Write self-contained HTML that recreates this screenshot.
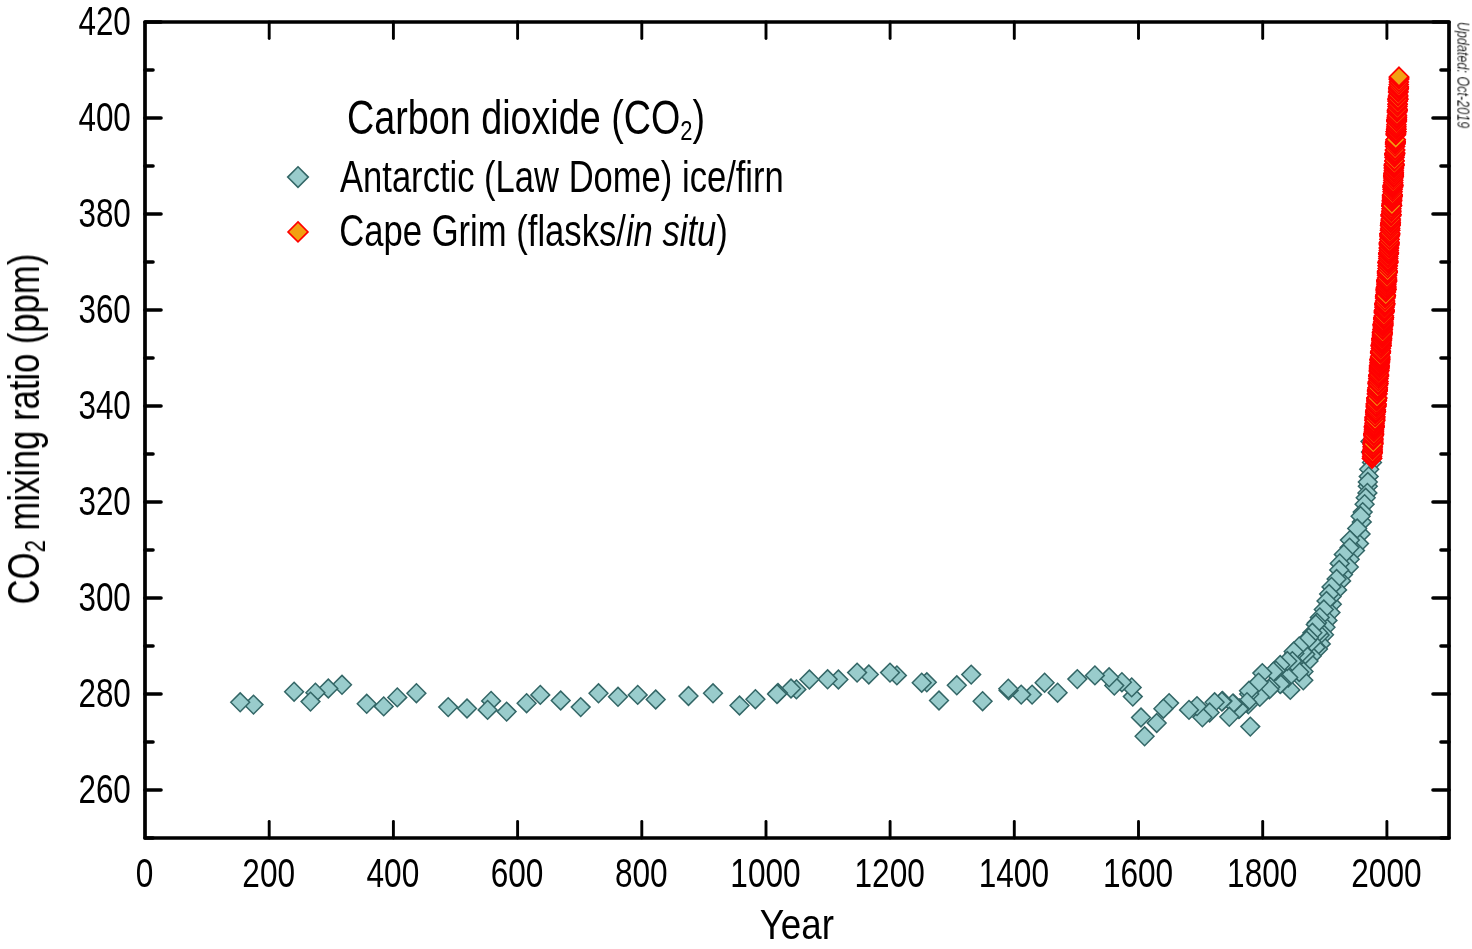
<!DOCTYPE html>
<html><head><meta charset="utf-8"><title>Carbon dioxide (CO2) - Law Dome and Cape Grim</title>
<style>html,body{margin:0;padding:0;background:#fff;width:1472px;height:949px;overflow:hidden}</style>
</head><body>
<svg width="1472" height="949" viewBox="0 0 1472 949" style="display:block">
<rect width="1472" height="949" fill="#fff"/>
<g fill="#99cccc" stroke="#336666" stroke-width="1.5" stroke-linejoin="miter">
<path d="M1372.0 453.1L1381.4 462.5L1372.0 471.9L1362.6 462.5Z"/>
<path d="M1371.0 442.6L1380.4 452.0L1371.0 461.4L1361.6 452.0Z"/>
<path d="M1370.5 432.1L1379.9 441.5L1370.5 450.9L1361.1 441.5Z"/>
<path d="M1369.2 459.9L1378.6 469.3L1369.2 478.7L1359.8 469.3Z"/>
<path d="M1368.7 467.0L1378.1 476.4L1368.7 485.8L1359.3 476.4Z"/>
<path d="M1367.8 476.8L1377.2 486.2L1367.8 495.6L1358.4 486.2Z"/>
<path d="M1367.8 472.6L1377.2 482.0L1367.8 491.4L1358.4 482.0Z"/>
<path d="M1367.4 483.5L1376.8 492.9L1367.4 502.3L1358.0 492.9Z"/>
<path d="M1365.7 488.4L1375.1 497.8L1365.7 507.2L1356.3 497.8Z"/>
<path d="M1364.6 494.8L1374.0 504.2L1364.6 513.6L1355.2 504.2Z"/>
<path d="M1362.7 502.7L1372.1 512.1L1362.7 521.5L1353.3 512.1Z"/>
<path d="M1361.8 512.5L1371.2 521.9L1361.8 531.3L1352.4 521.9Z"/>
<path d="M1360.6 524.6L1370.0 534.0L1360.6 543.4L1351.2 534.0Z"/>
<path d="M1360.6 506.8L1370.0 516.2L1360.6 525.6L1351.2 516.2Z"/>
<path d="M1359.0 534.2L1368.4 543.6L1359.0 553.0L1349.6 543.6Z"/>
<path d="M1357.2 519.1L1366.6 528.5L1357.2 537.9L1347.8 528.5Z"/>
<path d="M1355.0 541.2L1364.4 550.6L1355.0 560.0L1345.6 550.6Z"/>
<path d="M1349.9 530.7L1359.3 540.1L1349.9 549.5L1340.5 540.1Z"/>
<path d="M1349.7 549.8L1359.1 559.2L1349.7 568.6L1340.3 559.2Z"/>
<path d="M1349.6 538.2L1359.0 547.6L1349.6 557.0L1340.2 547.6Z"/>
<path d="M1348.8 557.6L1358.2 567.0L1348.8 576.4L1339.4 567.0Z"/>
<path d="M1343.8 545.0L1353.2 554.4L1343.8 563.8L1334.4 554.4Z"/>
<path d="M1343.0 565.2L1352.4 574.6L1343.0 584.0L1333.6 574.6Z"/>
<path d="M1341.1 571.5L1350.5 580.9L1341.1 590.3L1331.7 580.9Z"/>
<path d="M1339.7 554.0L1349.1 563.4L1339.7 572.8L1330.3 563.4Z"/>
<path d="M1339.2 560.6L1348.6 570.0L1339.2 579.4L1329.8 570.0Z"/>
<path d="M1337.1 580.5L1346.5 589.9L1337.1 599.3L1327.7 589.9Z"/>
<path d="M1336.6 569.6L1346.0 579.0L1336.6 588.4L1327.2 579.0Z"/>
<path d="M1331.8 594.9L1341.2 604.3L1331.8 613.7L1322.4 604.3Z"/>
<path d="M1331.6 587.1L1341.0 596.5L1331.6 605.9L1322.2 596.5Z"/>
<path d="M1331.5 577.5L1340.9 586.9L1331.5 596.3L1322.1 586.9Z"/>
<path d="M1330.5 603.2L1339.9 612.6L1330.5 622.0L1321.1 612.6Z"/>
<path d="M1329.1 584.6L1338.5 594.0L1329.1 603.4L1319.7 594.0Z"/>
<path d="M1327.5 611.0L1336.9 620.4L1327.5 629.8L1318.1 620.4Z"/>
<path d="M1326.5 591.6L1335.9 601.0L1326.5 610.4L1317.1 601.0Z"/>
<path d="M1325.5 617.9L1334.9 627.3L1325.5 636.7L1316.1 627.3Z"/>
<path d="M1324.0 625.4L1333.4 634.8L1324.0 644.2L1314.6 634.8Z"/>
<path d="M1323.8 600.1L1333.2 609.5L1323.8 618.9L1314.4 609.5Z"/>
<path d="M1320.8 634.5L1330.2 643.9L1320.8 653.3L1311.4 643.9Z"/>
<path d="M1319.8 608.0L1329.2 617.4L1319.8 626.8L1310.4 617.4Z"/>
<path d="M1319.7 625.7L1329.1 635.1L1319.7 644.5L1310.3 635.1Z"/>
<path d="M1318.0 639.6L1327.4 649.0L1318.0 658.4L1308.6 649.0Z"/>
<path d="M1318.0 623.3L1327.4 632.7L1318.0 642.1L1308.6 632.7Z"/>
<path d="M1317.0 613.3L1326.4 622.7L1317.0 632.1L1307.6 622.7Z"/>
<path d="M1315.8 615.0L1325.2 624.4L1315.8 633.8L1306.4 624.4Z"/>
<path d="M1315.6 638.0L1325.0 647.4L1315.6 656.8L1306.2 647.4Z"/>
<path d="M1312.4 623.4L1321.8 632.8L1312.4 642.2L1303.0 632.8Z"/>
<path d="M1311.7 646.6L1321.1 656.0L1311.7 665.4L1302.3 656.0Z"/>
<path d="M1311.6 632.5L1321.0 641.9L1311.6 651.3L1302.2 641.9Z"/>
<path d="M1308.8 628.4L1318.2 637.8L1308.8 647.2L1299.4 637.8Z"/>
<path d="M1308.5 651.6L1317.9 661.0L1308.5 670.4L1299.1 661.0Z"/>
<path d="M1306.7 631.2L1316.1 640.6L1306.7 650.0L1297.3 640.6Z"/>
<path d="M1305.3 644.8L1314.7 654.2L1305.3 663.6L1295.9 654.2Z"/>
<path d="M1303.5 662.1L1312.9 671.5L1303.5 680.9L1294.1 671.5Z"/>
<path d="M1303.3 670.9L1312.7 680.3L1303.3 689.7L1293.9 680.3Z"/>
<path d="M1302.6 642.5L1312.0 651.9L1302.6 661.3L1293.2 651.9Z"/>
<path d="M1299.2 662.6L1308.6 672.0L1299.2 681.4L1289.8 672.0Z"/>
<path d="M1299.2 637.0L1308.6 646.4L1299.2 655.8L1289.8 646.4Z"/>
<path d="M1294.4 644.2L1303.8 653.6L1294.4 663.0L1285.0 653.6Z"/>
<path d="M1293.7 642.1L1303.1 651.5L1293.7 660.9L1284.3 651.5Z"/>
<path d="M1292.3 651.7L1301.7 661.1L1292.3 670.5L1282.9 661.1Z"/>
<path d="M1290.3 680.5L1299.7 689.9L1290.3 699.3L1280.9 689.9Z"/>
<path d="M1288.2 668.1L1297.6 677.5L1288.2 686.9L1278.8 677.5Z"/>
<path d="M1287.3 651.6L1296.7 661.0L1287.3 670.4L1277.9 661.0Z"/>
<path d="M1281.4 673.6L1290.8 683.0L1281.4 692.4L1272.0 683.0Z"/>
<path d="M1280.2 655.6L1289.6 665.0L1280.2 674.4L1270.8 665.0Z"/>
<path d="M1280.2 674.6L1289.6 684.0L1280.2 693.4L1270.8 684.0Z"/>
<path d="M1275.9 661.3L1285.3 670.7L1275.9 680.1L1266.5 670.7Z"/>
<path d="M1273.4 662.3L1282.8 671.7L1273.4 681.1L1264.0 671.7Z"/>
<path d="M1270.4 677.7L1279.8 687.1L1270.4 696.5L1261.0 687.1Z"/>
<path d="M1269.3 680.0L1278.7 689.4L1269.3 698.8L1259.9 689.4Z"/>
<path d="M1262.3 663.7L1271.7 673.1L1262.3 682.5L1252.9 673.1Z"/>
<path d="M1259.8 687.5L1269.2 696.9L1259.8 706.3L1250.4 696.9Z"/>
<path d="M1258.5 673.2L1267.9 682.6L1258.5 692.0L1249.1 682.6Z"/>
<path d="M1250.3 717.2L1259.7 726.6L1250.3 736.0L1240.9 726.6Z"/>
<path d="M1249.2 684.6L1258.6 694.0L1249.2 703.4L1239.8 694.0Z"/>
<path d="M1249.0 681.4L1258.4 690.8L1249.0 700.2L1239.6 690.8Z"/>
<path d="M1248.3 694.9L1257.7 704.3L1248.3 713.7L1238.9 704.3Z"/>
<path d="M1247.0 692.8L1256.4 702.2L1247.0 711.6L1237.6 702.2Z"/>
<path d="M1239.5 699.0L1248.9 708.4L1239.5 717.8L1230.1 708.4Z"/>
<path d="M1238.9 699.6L1248.3 709.0L1238.9 718.4L1229.5 709.0Z"/>
<path d="M1233.4 694.2L1242.8 703.6L1233.4 713.0L1224.0 703.6Z"/>
<path d="M1232.7 694.3L1242.1 703.7L1232.7 713.1L1223.3 703.7Z"/>
<path d="M1229.3 707.4L1238.7 716.8L1229.3 726.2L1219.9 716.8Z"/>
<path d="M1222.5 691.6L1231.9 701.0L1222.5 710.4L1213.1 701.0Z"/>
<path d="M1221.8 692.1L1231.2 701.5L1221.8 710.9L1212.4 701.5Z"/>
<path d="M1214.6 692.9L1224.0 702.3L1214.6 711.7L1205.2 702.3Z"/>
<path d="M1209.6 703.1L1219.0 712.5L1209.6 721.9L1200.2 712.5Z"/>
<path d="M1202.4 707.9L1211.8 717.3L1202.4 726.7L1193.0 717.3Z"/>
<path d="M1197.0 696.7L1206.4 706.1L1197.0 715.5L1187.6 706.1Z"/>
<path d="M1189.0 700.5L1198.4 709.9L1189.0 719.3L1179.6 709.9Z"/>
<path d="M1169.1 693.7L1178.5 703.1L1169.1 712.5L1159.7 703.1Z"/>
<path d="M1163.4 699.3L1172.8 708.7L1163.4 718.1L1154.0 708.7Z"/>
<path d="M1156.7 713.6L1166.1 723.0L1156.7 732.4L1147.3 723.0Z"/>
<path d="M1144.6 726.9L1154.0 736.3L1144.6 745.7L1135.2 736.3Z"/>
<path d="M1141.0 708.1L1150.4 717.5L1141.0 726.9L1131.6 717.5Z"/>
<path d="M1132.8 687.2L1142.2 696.6L1132.8 706.0L1123.4 696.6Z"/>
<path d="M1131.7 678.0L1141.1 687.4L1131.7 696.8L1122.3 687.4Z"/>
<path d="M1121.9 672.8L1131.3 682.2L1121.9 691.6L1112.5 682.2Z"/>
<path d="M1114.3 676.2L1123.7 685.6L1114.3 695.0L1104.9 685.6Z"/>
<path d="M1109.1 667.9L1118.5 677.3L1109.1 686.7L1099.7 677.3Z"/>
<path d="M1094.9 666.0L1104.3 675.4L1094.9 684.8L1085.5 675.4Z"/>
<path d="M1077.3 669.7L1086.7 679.1L1077.3 688.5L1067.9 679.1Z"/>
<path d="M1057.6 683.3L1067.0 692.7L1057.6 702.1L1048.2 692.7Z"/>
<path d="M1044.6 673.3L1054.0 682.7L1044.6 692.1L1035.2 682.7Z"/>
<path d="M1032.1 685.2L1041.5 694.6L1032.1 704.0L1022.7 694.6Z"/>
<path d="M1021.2 685.2L1030.6 694.6L1021.2 704.0L1011.8 694.6Z"/>
<path d="M1008.6 681.0L1018.0 690.4L1008.6 699.8L999.2 690.4Z"/>
<path d="M1008.3 679.3L1017.7 688.7L1008.3 698.1L998.9 688.7Z"/>
<path d="M982.6 691.8L992.0 701.2L982.6 710.6L973.2 701.2Z"/>
<path d="M971.2 665.2L980.6 674.6L971.2 684.0L961.8 674.6Z"/>
<path d="M956.8 675.9L966.2 685.3L956.8 694.7L947.4 685.3Z"/>
<path d="M939.0 691.1L948.4 700.5L939.0 709.9L929.6 700.5Z"/>
<path d="M926.8 672.9L936.2 682.3L926.8 691.7L917.4 682.3Z"/>
<path d="M921.7 673.3L931.1 682.7L921.7 692.1L912.3 682.7Z"/>
<path d="M896.9 666.0L906.3 675.4L896.9 684.8L887.5 675.4Z"/>
<path d="M890.0 663.2L899.4 672.6L890.0 682.0L880.6 672.6Z"/>
<path d="M868.8 665.1L878.2 674.5L868.8 683.9L859.4 674.5Z"/>
<path d="M857.1 663.2L866.5 672.6L857.1 682.0L847.7 672.6Z"/>
<path d="M838.4 670.1L847.8 679.5L838.4 688.9L829.0 679.5Z"/>
<path d="M827.6 669.9L837.0 679.3L827.6 688.7L818.2 679.3Z"/>
<path d="M809.4 670.1L818.8 679.5L809.4 688.9L800.0 679.5Z"/>
<path d="M796.4 680.0L805.8 689.4L796.4 698.8L787.0 689.4Z"/>
<path d="M791.0 679.1L800.4 688.5L791.0 697.9L781.6 688.5Z"/>
<path d="M778.0 683.6L787.4 693.0L778.0 702.4L768.6 693.0Z"/>
<path d="M777.0 684.6L786.4 694.0L777.0 703.4L767.6 694.0Z"/>
<path d="M755.4 689.8L764.8 699.2L755.4 708.6L746.0 699.2Z"/>
<path d="M739.5 696.1L748.9 705.5L739.5 714.9L730.1 705.5Z"/>
<path d="M713.0 683.9L722.4 693.3L713.0 702.7L703.6 693.3Z"/>
<path d="M688.5 686.6L697.9 696.0L688.5 705.4L679.1 696.0Z"/>
<path d="M655.7 690.1L665.1 699.5L655.7 708.9L646.3 699.5Z"/>
<path d="M637.7 685.5L647.1 694.9L637.7 704.3L628.3 694.9Z"/>
<path d="M618.0 687.4L627.4 696.8L618.0 706.2L608.6 696.8Z"/>
<path d="M598.5 683.9L607.9 693.3L598.5 702.7L589.1 693.3Z"/>
<path d="M580.7 697.7L590.1 707.1L580.7 716.5L571.3 707.1Z"/>
<path d="M560.7 691.1L570.1 700.5L560.7 709.9L551.3 700.5Z"/>
<path d="M540.3 685.5L549.7 694.9L540.3 704.3L530.9 694.9Z"/>
<path d="M526.6 693.8L536.0 703.2L526.6 712.6L517.2 703.2Z"/>
<path d="M506.6 702.2L516.0 711.6L506.6 721.0L497.2 711.6Z"/>
<path d="M491.1 691.5L500.5 700.9L491.1 710.3L481.7 700.9Z"/>
<path d="M487.6 700.5L497.0 709.9L487.6 719.3L478.2 709.9Z"/>
<path d="M467.0 699.1L476.4 708.5L467.0 717.9L457.6 708.5Z"/>
<path d="M448.2 697.7L457.6 707.1L448.2 716.5L438.8 707.1Z"/>
<path d="M416.4 683.8L425.8 693.2L416.4 702.6L407.0 693.2Z"/>
<path d="M397.3 688.0L406.7 697.4L397.3 706.8L387.9 697.4Z"/>
<path d="M383.7 697.0L393.1 706.4L383.7 715.8L374.3 706.4Z"/>
<path d="M366.7 694.4L376.1 703.8L366.7 713.2L357.3 703.8Z"/>
<path d="M342.0 675.4L351.4 684.8L342.0 694.2L332.6 684.8Z"/>
<path d="M328.3 679.1L337.7 688.5L328.3 697.9L318.9 688.5Z"/>
<path d="M315.4 683.3L324.8 692.7L315.4 702.1L306.0 692.7Z"/>
<path d="M310.5 692.2L319.9 701.6L310.5 711.0L301.1 701.6Z"/>
<path d="M294.1 682.3L303.5 691.7L294.1 701.1L284.7 691.7Z"/>
<path d="M253.5 695.2L262.9 704.6L253.5 714.0L244.1 704.6Z"/>
<path d="M240.2 692.9L249.6 702.3L240.2 711.7L230.8 702.3Z"/>
</g>
<g fill="#f2a012" stroke="#ff0000" stroke-width="1.7">
<path d="M1372.0 449.2L1381.4 458.6L1372.0 468.0L1362.6 458.6Z"/>
<path d="M1372.1 448.8L1381.5 458.2L1372.1 467.6L1362.7 458.2Z"/>
<path d="M1372.1 446.9L1381.5 456.3L1372.1 465.7L1362.7 456.3Z"/>
<path d="M1372.2 444.7L1381.6 454.1L1372.2 463.5L1362.8 454.1Z"/>
<path d="M1372.2 443.5L1381.6 452.9L1372.2 462.3L1362.8 452.9Z"/>
<path d="M1372.3 442.0L1381.7 451.4L1372.3 460.8L1362.9 451.4Z"/>
<path d="M1372.3 443.0L1381.7 452.4L1372.3 461.8L1362.9 452.4Z"/>
<path d="M1372.4 442.9L1381.8 452.3L1372.4 461.7L1363.0 452.3Z"/>
<path d="M1372.4 441.5L1381.8 450.9L1372.4 460.3L1363.0 450.9Z"/>
<path d="M1372.5 443.0L1381.9 452.4L1372.5 461.8L1363.1 452.4Z"/>
<path d="M1372.5 443.2L1381.9 452.6L1372.5 462.0L1363.1 452.6Z"/>
<path d="M1372.6 443.4L1382.0 452.8L1372.6 462.2L1363.2 452.8Z"/>
<path d="M1372.6 440.5L1382.0 449.9L1372.6 459.3L1363.2 449.9Z"/>
<path d="M1372.7 439.6L1382.1 449.0L1372.7 458.4L1363.3 449.0Z"/>
<path d="M1372.7 437.4L1382.1 446.8L1372.7 456.2L1363.3 446.8Z"/>
<path d="M1372.8 437.6L1382.2 447.0L1372.8 456.4L1363.4 447.0Z"/>
<path d="M1372.8 435.3L1382.2 444.7L1372.8 454.1L1363.4 444.7Z"/>
<path d="M1372.9 435.0L1382.3 444.4L1372.9 453.8L1363.5 444.4Z"/>
<path d="M1372.9 432.9L1382.3 442.3L1372.9 451.7L1363.5 442.3Z"/>
<path d="M1373.0 432.1L1382.4 441.5L1373.0 450.9L1363.6 441.5Z"/>
<path d="M1373.0 434.2L1382.4 443.6L1373.0 453.0L1363.6 443.6Z"/>
<path d="M1373.1 432.7L1382.5 442.1L1373.1 451.5L1363.7 442.1Z"/>
<path d="M1373.1 433.3L1382.5 442.7L1373.1 452.1L1363.7 442.7Z"/>
<path d="M1373.2 434.0L1382.6 443.4L1373.2 452.8L1363.8 443.4Z"/>
<path d="M1373.2 434.6L1382.6 444.0L1373.2 453.4L1363.8 444.0Z"/>
<path d="M1373.3 430.7L1382.7 440.1L1373.3 449.5L1363.9 440.1Z"/>
<path d="M1373.3 430.3L1382.7 439.7L1373.3 449.1L1363.9 439.7Z"/>
<path d="M1373.4 428.9L1382.8 438.3L1373.4 447.7L1364.0 438.3Z"/>
<path d="M1373.5 426.6L1382.9 436.0L1373.5 445.4L1364.1 436.0Z"/>
<path d="M1373.5 425.4L1382.9 434.8L1373.5 444.2L1364.1 434.8Z"/>
<path d="M1373.6 423.9L1383.0 433.3L1373.6 442.7L1364.2 433.3Z"/>
<path d="M1373.6 425.7L1383.0 435.1L1373.6 444.5L1364.2 435.1Z"/>
<path d="M1373.7 424.3L1383.1 433.7L1373.7 443.1L1364.3 433.7Z"/>
<path d="M1373.7 424.3L1383.1 433.7L1373.7 443.1L1364.3 433.7Z"/>
<path d="M1373.8 424.5L1383.2 433.9L1373.8 443.3L1364.4 433.9Z"/>
<path d="M1373.8 425.6L1383.2 435.0L1373.8 444.4L1364.4 435.0Z"/>
<path d="M1373.9 425.2L1383.3 434.6L1373.9 444.0L1364.5 434.6Z"/>
<path d="M1373.9 422.6L1383.3 432.0L1373.9 441.4L1364.5 432.0Z"/>
<path d="M1374.0 421.7L1383.4 431.1L1374.0 440.5L1364.6 431.1Z"/>
<path d="M1374.0 419.9L1383.4 429.3L1374.0 438.7L1364.6 429.3Z"/>
<path d="M1374.1 417.4L1383.5 426.8L1374.1 436.2L1364.7 426.8Z"/>
<path d="M1374.1 417.5L1383.5 426.9L1374.1 436.3L1364.7 426.9Z"/>
<path d="M1374.2 418.4L1383.6 427.8L1374.2 437.2L1364.8 427.8Z"/>
<path d="M1374.2 416.8L1383.6 426.2L1374.2 435.6L1364.8 426.2Z"/>
<path d="M1374.3 418.2L1383.7 427.6L1374.3 437.0L1364.9 427.6Z"/>
<path d="M1374.3 416.5L1383.7 425.9L1374.3 435.3L1364.9 425.9Z"/>
<path d="M1374.4 417.0L1383.8 426.4L1374.4 435.8L1365.0 426.4Z"/>
<path d="M1374.4 417.5L1383.8 426.9L1374.4 436.3L1365.0 426.9Z"/>
<path d="M1374.5 416.3L1383.9 425.7L1374.5 435.1L1365.1 425.7Z"/>
<path d="M1374.5 414.5L1383.9 423.9L1374.5 433.3L1365.1 423.9Z"/>
<path d="M1374.6 413.6L1384.0 423.0L1374.6 432.4L1365.2 423.0Z"/>
<path d="M1374.6 411.0L1384.0 420.4L1374.6 429.8L1365.2 420.4Z"/>
<path d="M1374.7 410.6L1384.1 420.0L1374.7 429.4L1365.3 420.0Z"/>
<path d="M1374.7 408.7L1384.1 418.1L1374.7 427.5L1365.3 418.1Z"/>
<path d="M1374.8 407.8L1384.2 417.2L1374.8 426.6L1365.4 417.2Z"/>
<path d="M1374.8 407.7L1384.2 417.1L1374.8 426.5L1365.4 417.1Z"/>
<path d="M1374.9 409.8L1384.3 419.2L1374.9 428.6L1365.5 419.2Z"/>
<path d="M1375.0 409.1L1384.4 418.5L1375.0 427.9L1365.6 418.5Z"/>
<path d="M1375.0 411.5L1384.4 420.9L1375.0 430.3L1365.6 420.9Z"/>
<path d="M1375.1 410.7L1384.5 420.1L1375.1 429.5L1365.7 420.1Z"/>
<path d="M1375.1 410.8L1384.5 420.2L1375.1 429.6L1365.7 420.2Z"/>
<path d="M1375.2 407.3L1384.6 416.7L1375.2 426.1L1365.8 416.7Z"/>
<path d="M1375.2 407.5L1384.6 416.9L1375.2 426.3L1365.8 416.9Z"/>
<path d="M1375.3 405.0L1384.7 414.4L1375.3 423.8L1365.9 414.4Z"/>
<path d="M1375.3 403.7L1384.7 413.1L1375.3 422.5L1365.9 413.1Z"/>
<path d="M1375.4 402.5L1384.8 411.9L1375.4 421.3L1366.0 411.9Z"/>
<path d="M1375.4 402.4L1384.8 411.8L1375.4 421.2L1366.0 411.8Z"/>
<path d="M1375.5 401.7L1384.9 411.1L1375.5 420.5L1366.1 411.1Z"/>
<path d="M1375.5 400.9L1384.9 410.3L1375.5 419.7L1366.1 410.3Z"/>
<path d="M1375.6 402.7L1385.0 412.1L1375.6 421.5L1366.2 412.1Z"/>
<path d="M1375.6 402.6L1385.0 412.0L1375.6 421.4L1366.2 412.0Z"/>
<path d="M1375.7 402.1L1385.1 411.5L1375.7 420.9L1366.3 411.5Z"/>
<path d="M1375.7 402.4L1385.1 411.8L1375.7 421.2L1366.3 411.8Z"/>
<path d="M1375.8 402.1L1385.2 411.5L1375.8 420.9L1366.4 411.5Z"/>
<path d="M1375.8 400.0L1385.2 409.4L1375.8 418.8L1366.4 409.4Z"/>
<path d="M1375.9 397.1L1385.3 406.5L1375.9 415.9L1366.5 406.5Z"/>
<path d="M1375.9 397.8L1385.3 407.2L1375.9 416.6L1366.5 407.2Z"/>
<path d="M1376.0 395.9L1385.4 405.3L1376.0 414.7L1366.6 405.3Z"/>
<path d="M1376.0 394.1L1385.4 403.5L1376.0 412.9L1366.6 403.5Z"/>
<path d="M1376.1 394.3L1385.5 403.7L1376.1 413.1L1366.7 403.7Z"/>
<path d="M1376.1 395.2L1385.5 404.6L1376.1 414.0L1366.7 404.6Z"/>
<path d="M1376.2 395.1L1385.6 404.5L1376.2 413.9L1366.8 404.5Z"/>
<path d="M1376.2 395.9L1385.6 405.3L1376.2 414.7L1366.8 405.3Z"/>
<path d="M1376.3 396.8L1385.7 406.2L1376.3 415.6L1366.9 406.2Z"/>
<path d="M1376.3 396.5L1385.7 405.9L1376.3 415.3L1366.9 405.9Z"/>
<path d="M1376.4 394.6L1385.8 404.0L1376.4 413.4L1367.0 404.0Z"/>
<path d="M1376.5 391.9L1385.9 401.3L1376.5 410.7L1367.1 401.3Z"/>
<path d="M1376.5 391.4L1385.9 400.8L1376.5 410.2L1367.1 400.8Z"/>
<path d="M1376.6 390.2L1386.0 399.6L1376.6 409.0L1367.2 399.6Z"/>
<path d="M1376.6 389.0L1386.0 398.4L1376.6 407.8L1367.2 398.4Z"/>
<path d="M1376.7 389.1L1386.1 398.5L1376.7 407.9L1367.3 398.5Z"/>
<path d="M1376.7 388.0L1386.1 397.4L1376.7 406.8L1367.3 397.4Z"/>
<path d="M1376.8 389.2L1386.2 398.6L1376.8 408.0L1367.4 398.6Z"/>
<path d="M1376.8 388.4L1386.2 397.8L1376.8 407.2L1367.4 397.8Z"/>
<path d="M1376.9 390.8L1386.3 400.2L1376.9 409.6L1367.5 400.2Z"/>
<path d="M1376.9 388.6L1386.3 398.0L1376.9 407.4L1367.5 398.0Z"/>
<path d="M1377.0 388.7L1386.4 398.1L1377.0 407.5L1367.6 398.1Z"/>
<path d="M1377.0 388.6L1386.4 398.0L1377.0 407.4L1367.6 398.0Z"/>
<path d="M1377.1 385.0L1386.5 394.4L1377.1 403.8L1367.7 394.4Z"/>
<path d="M1377.1 384.2L1386.5 393.6L1377.1 403.0L1367.7 393.6Z"/>
<path d="M1377.2 384.2L1386.6 393.6L1377.2 403.0L1367.8 393.6Z"/>
<path d="M1377.2 382.1L1386.6 391.5L1377.2 400.9L1367.8 391.5Z"/>
<path d="M1377.3 380.7L1386.7 390.1L1377.3 399.5L1367.9 390.1Z"/>
<path d="M1377.3 381.2L1386.7 390.6L1377.3 400.0L1367.9 390.6Z"/>
<path d="M1377.4 380.6L1386.8 390.0L1377.4 399.4L1368.0 390.0Z"/>
<path d="M1377.4 381.1L1386.8 390.5L1377.4 399.9L1368.0 390.5Z"/>
<path d="M1377.5 381.5L1386.9 390.9L1377.5 400.3L1368.1 390.9Z"/>
<path d="M1377.5 381.6L1386.9 391.0L1377.5 400.4L1368.1 391.0Z"/>
<path d="M1377.6 380.2L1387.0 389.6L1377.6 399.0L1368.2 389.6Z"/>
<path d="M1377.6 379.5L1387.0 388.9L1377.6 398.3L1368.2 388.9Z"/>
<path d="M1377.7 378.1L1387.1 387.5L1377.7 396.9L1368.3 387.5Z"/>
<path d="M1377.7 378.4L1387.1 387.8L1377.7 397.2L1368.3 387.8Z"/>
<path d="M1377.8 374.6L1387.2 384.0L1377.8 393.4L1368.4 384.0Z"/>
<path d="M1377.8 373.1L1387.2 382.5L1377.8 391.9L1368.4 382.5Z"/>
<path d="M1377.9 373.8L1387.3 383.2L1377.9 392.6L1368.5 383.2Z"/>
<path d="M1378.0 373.9L1387.4 383.3L1378.0 392.7L1368.6 383.3Z"/>
<path d="M1378.0 372.3L1387.4 381.7L1378.0 391.1L1368.6 381.7Z"/>
<path d="M1378.1 375.5L1387.5 384.9L1378.1 394.3L1368.7 384.9Z"/>
<path d="M1378.1 374.1L1387.5 383.5L1378.1 392.9L1368.7 383.5Z"/>
<path d="M1378.2 372.4L1387.6 381.8L1378.2 391.2L1368.8 381.8Z"/>
<path d="M1378.2 374.3L1387.6 383.7L1378.2 393.1L1368.8 383.7Z"/>
<path d="M1378.3 371.8L1387.7 381.2L1378.3 390.6L1368.9 381.2Z"/>
<path d="M1378.3 369.3L1387.7 378.7L1378.3 388.1L1368.9 378.7Z"/>
<path d="M1378.4 369.2L1387.8 378.6L1378.4 388.0L1369.0 378.6Z"/>
<path d="M1378.4 367.2L1387.8 376.6L1378.4 386.0L1369.0 376.6Z"/>
<path d="M1378.5 365.8L1387.9 375.2L1378.5 384.6L1369.1 375.2Z"/>
<path d="M1378.5 366.6L1387.9 376.0L1378.5 385.4L1369.1 376.0Z"/>
<path d="M1378.6 365.9L1388.0 375.3L1378.6 384.7L1369.2 375.3Z"/>
<path d="M1378.6 365.9L1388.0 375.3L1378.6 384.7L1369.2 375.3Z"/>
<path d="M1378.7 365.9L1388.1 375.3L1378.7 384.7L1369.3 375.3Z"/>
<path d="M1378.7 366.8L1388.1 376.2L1378.7 385.6L1369.3 376.2Z"/>
<path d="M1378.8 366.7L1388.2 376.1L1378.8 385.5L1369.4 376.1Z"/>
<path d="M1378.8 366.7L1388.2 376.1L1378.8 385.5L1369.4 376.1Z"/>
<path d="M1378.9 364.9L1388.3 374.3L1378.9 383.7L1369.5 374.3Z"/>
<path d="M1378.9 362.4L1388.3 371.8L1378.9 381.2L1369.5 371.8Z"/>
<path d="M1379.0 361.3L1388.4 370.7L1379.0 380.1L1369.6 370.7Z"/>
<path d="M1379.0 360.6L1388.4 370.0L1379.0 379.4L1369.6 370.0Z"/>
<path d="M1379.1 359.4L1388.5 368.8L1379.1 378.2L1369.7 368.8Z"/>
<path d="M1379.1 356.2L1388.5 365.6L1379.1 375.0L1369.7 365.6Z"/>
<path d="M1379.2 357.3L1388.6 366.7L1379.2 376.1L1369.8 366.7Z"/>
<path d="M1379.2 357.9L1388.6 367.3L1379.2 376.7L1369.8 367.3Z"/>
<path d="M1379.3 360.8L1388.7 370.2L1379.3 379.6L1369.9 370.2Z"/>
<path d="M1379.3 358.6L1388.7 368.0L1379.3 377.4L1369.9 368.0Z"/>
<path d="M1379.4 358.5L1388.8 367.9L1379.4 377.3L1370.0 367.9Z"/>
<path d="M1379.5 356.9L1388.9 366.3L1379.5 375.7L1370.1 366.3Z"/>
<path d="M1379.5 356.7L1388.9 366.1L1379.5 375.5L1370.1 366.1Z"/>
<path d="M1379.6 355.5L1389.0 364.9L1379.6 374.3L1370.2 364.9Z"/>
<path d="M1379.6 353.3L1389.0 362.7L1379.6 372.1L1370.2 362.7Z"/>
<path d="M1379.7 353.7L1389.1 363.1L1379.7 372.5L1370.3 363.1Z"/>
<path d="M1379.7 350.3L1389.1 359.7L1379.7 369.1L1370.3 359.7Z"/>
<path d="M1379.8 350.3L1389.2 359.7L1379.8 369.1L1370.4 359.7Z"/>
<path d="M1379.8 351.0L1389.2 360.4L1379.8 369.8L1370.4 360.4Z"/>
<path d="M1379.9 349.7L1389.3 359.1L1379.9 368.5L1370.5 359.1Z"/>
<path d="M1379.9 349.8L1389.3 359.2L1379.9 368.6L1370.5 359.2Z"/>
<path d="M1380.0 352.5L1389.4 361.9L1380.0 371.3L1370.6 361.9Z"/>
<path d="M1380.0 351.7L1389.4 361.1L1380.0 370.5L1370.6 361.1Z"/>
<path d="M1380.1 350.3L1389.5 359.7L1380.1 369.1L1370.7 359.7Z"/>
<path d="M1380.1 349.2L1389.5 358.6L1380.1 368.0L1370.7 358.6Z"/>
<path d="M1380.2 348.0L1389.6 357.4L1380.2 366.8L1370.8 357.4Z"/>
<path d="M1380.2 346.8L1389.6 356.2L1380.2 365.6L1370.8 356.2Z"/>
<path d="M1380.3 342.9L1389.7 352.3L1380.3 361.7L1370.9 352.3Z"/>
<path d="M1380.3 342.6L1389.7 352.0L1380.3 361.4L1370.9 352.0Z"/>
<path d="M1380.4 343.8L1389.8 353.2L1380.4 362.6L1371.0 353.2Z"/>
<path d="M1380.4 343.8L1389.8 353.2L1380.4 362.6L1371.0 353.2Z"/>
<path d="M1380.5 341.8L1389.9 351.2L1380.5 360.6L1371.1 351.2Z"/>
<path d="M1380.5 342.7L1389.9 352.1L1380.5 361.5L1371.1 352.1Z"/>
<path d="M1380.6 342.3L1390.0 351.7L1380.6 361.1L1371.2 351.7Z"/>
<path d="M1380.6 342.9L1390.0 352.3L1380.6 361.7L1371.2 352.3Z"/>
<path d="M1380.7 343.5L1390.1 352.9L1380.7 362.3L1371.3 352.9Z"/>
<path d="M1380.7 341.5L1390.1 350.9L1380.7 360.3L1371.3 350.9Z"/>
<path d="M1380.8 341.9L1390.2 351.3L1380.8 360.7L1371.4 351.3Z"/>
<path d="M1380.9 339.2L1390.3 348.6L1380.9 358.0L1371.5 348.6Z"/>
<path d="M1380.9 337.2L1390.3 346.6L1380.9 356.0L1371.5 346.6Z"/>
<path d="M1381.0 335.7L1390.4 345.1L1381.0 354.5L1371.6 345.1Z"/>
<path d="M1381.0 336.2L1390.4 345.6L1381.0 355.0L1371.6 345.6Z"/>
<path d="M1381.1 335.7L1390.5 345.1L1381.1 354.5L1371.7 345.1Z"/>
<path d="M1381.1 335.7L1390.5 345.1L1381.1 354.5L1371.7 345.1Z"/>
<path d="M1381.2 336.2L1390.6 345.6L1381.2 355.0L1371.8 345.6Z"/>
<path d="M1381.2 336.3L1390.6 345.7L1381.2 355.1L1371.8 345.7Z"/>
<path d="M1381.3 336.6L1390.7 346.0L1381.3 355.4L1371.9 346.0Z"/>
<path d="M1381.3 336.4L1390.7 345.8L1381.3 355.2L1371.9 345.8Z"/>
<path d="M1381.4 334.4L1390.8 343.8L1381.4 353.2L1372.0 343.8Z"/>
<path d="M1381.4 333.5L1390.8 342.9L1381.4 352.3L1372.0 342.9Z"/>
<path d="M1381.5 332.5L1390.9 341.9L1381.5 351.3L1372.1 341.9Z"/>
<path d="M1381.5 330.9L1390.9 340.3L1381.5 349.7L1372.1 340.3Z"/>
<path d="M1381.6 329.4L1391.0 338.8L1381.6 348.2L1372.2 338.8Z"/>
<path d="M1381.6 329.0L1391.0 338.4L1381.6 347.8L1372.2 338.4Z"/>
<path d="M1381.7 328.8L1391.1 338.2L1381.7 347.6L1372.3 338.2Z"/>
<path d="M1381.7 329.3L1391.1 338.7L1381.7 348.1L1372.3 338.7Z"/>
<path d="M1381.8 329.6L1391.2 339.0L1381.8 348.4L1372.4 339.0Z"/>
<path d="M1381.8 330.2L1391.2 339.6L1381.8 349.0L1372.4 339.6Z"/>
<path d="M1381.9 331.0L1391.3 340.4L1381.9 349.8L1372.5 340.4Z"/>
<path d="M1381.9 329.1L1391.3 338.5L1381.9 347.9L1372.5 338.5Z"/>
<path d="M1382.0 327.5L1391.4 336.9L1382.0 346.3L1372.6 336.9Z"/>
<path d="M1382.0 326.4L1391.4 335.8L1382.0 345.2L1372.6 335.8Z"/>
<path d="M1382.1 325.3L1391.5 334.7L1382.1 344.1L1372.7 334.7Z"/>
<path d="M1382.1 323.4L1391.5 332.8L1382.1 342.2L1372.7 332.8Z"/>
<path d="M1382.2 323.4L1391.6 332.8L1382.2 342.2L1372.8 332.8Z"/>
<path d="M1382.2 323.7L1391.6 333.1L1382.2 342.5L1372.8 333.1Z"/>
<path d="M1382.3 322.2L1391.7 331.6L1382.3 341.0L1372.9 331.6Z"/>
<path d="M1382.4 323.3L1391.8 332.7L1382.4 342.1L1373.0 332.7Z"/>
<path d="M1382.4 322.5L1391.8 331.9L1382.4 341.3L1373.0 331.9Z"/>
<path d="M1382.5 324.2L1391.9 333.6L1382.5 343.0L1373.1 333.6Z"/>
<path d="M1382.5 325.3L1391.9 334.7L1382.5 344.1L1373.1 334.7Z"/>
<path d="M1382.6 323.5L1392.0 332.9L1382.6 342.3L1373.2 332.9Z"/>
<path d="M1382.6 320.3L1392.0 329.7L1382.6 339.1L1373.2 329.7Z"/>
<path d="M1382.7 320.4L1392.1 329.8L1382.7 339.2L1373.3 329.8Z"/>
<path d="M1382.7 319.5L1392.1 328.9L1382.7 338.3L1373.3 328.9Z"/>
<path d="M1382.8 317.6L1392.2 327.0L1382.8 336.4L1373.4 327.0Z"/>
<path d="M1382.8 315.6L1392.2 325.0L1382.8 334.4L1373.4 325.0Z"/>
<path d="M1382.9 315.1L1392.3 324.5L1382.9 333.9L1373.5 324.5Z"/>
<path d="M1382.9 315.4L1392.3 324.8L1382.9 334.2L1373.5 324.8Z"/>
<path d="M1383.0 314.7L1392.4 324.1L1383.0 333.5L1373.6 324.1Z"/>
<path d="M1383.0 315.8L1392.4 325.2L1383.0 334.6L1373.6 325.2Z"/>
<path d="M1383.1 316.7L1392.5 326.1L1383.1 335.5L1373.7 326.1Z"/>
<path d="M1383.1 316.1L1392.5 325.5L1383.1 334.9L1373.7 325.5Z"/>
<path d="M1383.2 314.7L1392.6 324.1L1383.2 333.5L1373.8 324.1Z"/>
<path d="M1383.2 314.1L1392.6 323.5L1383.2 332.9L1373.8 323.5Z"/>
<path d="M1383.3 312.6L1392.7 322.0L1383.3 331.4L1373.9 322.0Z"/>
<path d="M1383.3 312.6L1392.7 322.0L1383.3 331.4L1373.9 322.0Z"/>
<path d="M1383.4 310.4L1392.8 319.8L1383.4 329.2L1374.0 319.8Z"/>
<path d="M1383.4 308.7L1392.8 318.1L1383.4 327.5L1374.0 318.1Z"/>
<path d="M1383.5 309.0L1392.9 318.4L1383.5 327.8L1374.1 318.4Z"/>
<path d="M1383.5 308.0L1392.9 317.4L1383.5 326.8L1374.1 317.4Z"/>
<path d="M1383.6 308.7L1393.0 318.1L1383.6 327.5L1374.2 318.1Z"/>
<path d="M1383.6 308.9L1393.0 318.3L1383.6 327.7L1374.2 318.3Z"/>
<path d="M1383.7 310.1L1393.1 319.5L1383.7 328.9L1374.3 319.5Z"/>
<path d="M1383.7 307.9L1393.1 317.3L1383.7 326.7L1374.3 317.3Z"/>
<path d="M1383.8 308.3L1393.2 317.7L1383.8 327.1L1374.4 317.7Z"/>
<path d="M1383.9 308.2L1393.3 317.6L1383.9 327.0L1374.5 317.6Z"/>
<path d="M1383.9 306.4L1393.3 315.8L1383.9 325.2L1374.5 315.8Z"/>
<path d="M1384.0 302.8L1393.4 312.2L1384.0 321.6L1374.6 312.2Z"/>
<path d="M1384.0 303.5L1393.4 312.9L1384.0 322.3L1374.6 312.9Z"/>
<path d="M1384.1 301.5L1393.5 310.9L1384.1 320.3L1374.7 310.9Z"/>
<path d="M1384.1 300.8L1393.5 310.2L1384.1 319.6L1374.7 310.2Z"/>
<path d="M1384.2 301.5L1393.6 310.9L1384.2 320.3L1374.8 310.9Z"/>
<path d="M1384.2 302.7L1393.6 312.1L1384.2 321.5L1374.8 312.1Z"/>
<path d="M1384.3 302.0L1393.7 311.4L1384.3 320.8L1374.9 311.4Z"/>
<path d="M1384.3 302.1L1393.7 311.5L1384.3 320.9L1374.9 311.5Z"/>
<path d="M1384.4 301.4L1393.8 310.8L1384.4 320.2L1375.0 310.8Z"/>
<path d="M1384.4 301.0L1393.8 310.4L1384.4 319.8L1375.0 310.4Z"/>
<path d="M1384.5 300.3L1393.9 309.7L1384.5 319.1L1375.1 309.7Z"/>
<path d="M1384.5 298.1L1393.9 307.5L1384.5 316.9L1375.1 307.5Z"/>
<path d="M1384.6 296.7L1394.0 306.1L1384.6 315.5L1375.2 306.1Z"/>
<path d="M1384.6 295.4L1394.0 304.8L1384.6 314.2L1375.2 304.8Z"/>
<path d="M1384.7 294.4L1394.1 303.8L1384.7 313.2L1375.3 303.8Z"/>
<path d="M1384.7 294.1L1394.1 303.5L1384.7 312.9L1375.3 303.5Z"/>
<path d="M1384.8 293.3L1394.2 302.7L1384.8 312.1L1375.4 302.7Z"/>
<path d="M1384.8 294.9L1394.2 304.3L1384.8 313.7L1375.4 304.3Z"/>
<path d="M1384.9 295.0L1394.3 304.4L1384.9 313.8L1375.5 304.4Z"/>
<path d="M1384.9 294.7L1394.3 304.1L1384.9 313.5L1375.5 304.1Z"/>
<path d="M1385.0 295.7L1394.4 305.1L1385.0 314.5L1375.6 305.1Z"/>
<path d="M1385.0 294.2L1394.4 303.6L1385.0 313.0L1375.6 303.6Z"/>
<path d="M1385.1 294.2L1394.5 303.6L1385.1 313.0L1375.7 303.6Z"/>
<path d="M1385.1 291.6L1394.5 301.0L1385.1 310.4L1375.7 301.0Z"/>
<path d="M1385.2 289.0L1394.6 298.4L1385.2 307.8L1375.8 298.4Z"/>
<path d="M1385.2 287.5L1394.6 296.9L1385.2 306.3L1375.8 296.9Z"/>
<path d="M1385.3 286.8L1394.7 296.2L1385.3 305.6L1375.9 296.2Z"/>
<path d="M1385.4 286.4L1394.8 295.8L1385.4 305.2L1376.0 295.8Z"/>
<path d="M1385.4 287.2L1394.8 296.6L1385.4 306.0L1376.0 296.6Z"/>
<path d="M1385.5 285.0L1394.9 294.4L1385.5 303.8L1376.1 294.4Z"/>
<path d="M1385.5 286.4L1394.9 295.8L1385.5 305.2L1376.1 295.8Z"/>
<path d="M1385.6 286.2L1395.0 295.6L1385.6 305.0L1376.2 295.6Z"/>
<path d="M1385.6 287.6L1395.0 297.0L1385.6 306.4L1376.2 297.0Z"/>
<path d="M1385.7 286.3L1395.1 295.7L1385.7 305.1L1376.3 295.7Z"/>
<path d="M1385.7 286.4L1395.1 295.8L1385.7 305.2L1376.3 295.8Z"/>
<path d="M1385.8 282.8L1395.2 292.2L1385.8 301.6L1376.4 292.2Z"/>
<path d="M1385.8 281.0L1395.2 290.4L1385.8 299.8L1376.4 290.4Z"/>
<path d="M1385.9 281.7L1395.3 291.1L1385.9 300.5L1376.5 291.1Z"/>
<path d="M1385.9 279.1L1395.3 288.5L1385.9 297.9L1376.5 288.5Z"/>
<path d="M1386.0 278.0L1395.4 287.4L1386.0 296.8L1376.6 287.4Z"/>
<path d="M1386.0 279.8L1395.4 289.2L1386.0 298.6L1376.6 289.2Z"/>
<path d="M1386.1 280.1L1395.5 289.5L1386.1 298.9L1376.7 289.5Z"/>
<path d="M1386.1 280.0L1395.5 289.4L1386.1 298.8L1376.7 289.4Z"/>
<path d="M1386.2 279.9L1395.6 289.3L1386.2 298.7L1376.8 289.3Z"/>
<path d="M1386.2 280.3L1395.6 289.7L1386.2 299.1L1376.8 289.7Z"/>
<path d="M1386.3 278.5L1395.7 287.9L1386.3 297.3L1376.9 287.9Z"/>
<path d="M1386.3 277.1L1395.7 286.5L1386.3 295.9L1376.9 286.5Z"/>
<path d="M1386.4 275.3L1395.8 284.7L1386.4 294.1L1377.0 284.7Z"/>
<path d="M1386.4 273.5L1395.8 282.9L1386.4 292.3L1377.0 282.9Z"/>
<path d="M1386.5 271.4L1395.9 280.8L1386.5 290.2L1377.1 280.8Z"/>
<path d="M1386.5 270.5L1395.9 279.9L1386.5 289.3L1377.1 279.9Z"/>
<path d="M1386.6 271.9L1396.0 281.3L1386.6 290.7L1377.2 281.3Z"/>
<path d="M1386.6 271.2L1396.0 280.6L1386.6 290.0L1377.2 280.6Z"/>
<path d="M1386.7 271.9L1396.1 281.3L1386.7 290.7L1377.3 281.3Z"/>
<path d="M1386.7 272.3L1396.1 281.7L1386.7 291.1L1377.3 281.7Z"/>
<path d="M1386.8 271.8L1396.2 281.2L1386.8 290.6L1377.4 281.2Z"/>
<path d="M1386.9 271.5L1396.3 280.9L1386.9 290.3L1377.5 280.9Z"/>
<path d="M1386.9 270.5L1396.3 279.9L1386.9 289.3L1377.5 279.9Z"/>
<path d="M1387.0 270.7L1396.4 280.1L1387.0 289.5L1377.6 280.1Z"/>
<path d="M1387.0 268.7L1396.4 278.1L1387.0 287.5L1377.6 278.1Z"/>
<path d="M1387.1 266.0L1396.5 275.4L1387.1 284.8L1377.7 275.4Z"/>
<path d="M1387.1 264.4L1396.5 273.8L1387.1 283.2L1377.7 273.8Z"/>
<path d="M1387.2 263.3L1396.6 272.7L1387.2 282.1L1377.8 272.7Z"/>
<path d="M1387.2 262.3L1396.6 271.7L1387.2 281.1L1377.8 271.7Z"/>
<path d="M1387.3 262.7L1396.7 272.1L1387.3 281.5L1377.9 272.1Z"/>
<path d="M1387.3 261.7L1396.7 271.1L1387.3 280.5L1377.9 271.1Z"/>
<path d="M1387.4 262.2L1396.8 271.6L1387.4 281.0L1378.0 271.6Z"/>
<path d="M1387.4 262.6L1396.8 272.0L1387.4 281.4L1378.0 272.0Z"/>
<path d="M1387.5 262.8L1396.9 272.2L1387.5 281.6L1378.1 272.2Z"/>
<path d="M1387.5 261.6L1396.9 271.0L1387.5 280.4L1378.1 271.0Z"/>
<path d="M1387.6 262.2L1397.0 271.6L1387.6 281.0L1378.2 271.6Z"/>
<path d="M1387.6 259.1L1397.0 268.5L1387.6 277.9L1378.2 268.5Z"/>
<path d="M1387.7 256.5L1397.1 265.9L1387.7 275.3L1378.3 265.9Z"/>
<path d="M1387.7 256.0L1397.1 265.4L1387.7 274.8L1378.3 265.4Z"/>
<path d="M1387.8 253.5L1397.2 262.9L1387.8 272.3L1378.4 262.9Z"/>
<path d="M1387.8 252.8L1397.2 262.2L1387.8 271.6L1378.4 262.2Z"/>
<path d="M1387.9 253.7L1397.3 263.1L1387.9 272.5L1378.5 263.1Z"/>
<path d="M1387.9 253.0L1397.3 262.4L1387.9 271.8L1378.5 262.4Z"/>
<path d="M1388.0 253.3L1397.4 262.7L1388.0 272.1L1378.6 262.7Z"/>
<path d="M1388.0 252.8L1397.4 262.2L1388.0 271.6L1378.6 262.2Z"/>
<path d="M1388.1 252.4L1397.5 261.8L1388.1 271.2L1378.7 261.8Z"/>
<path d="M1388.1 252.0L1397.5 261.4L1388.1 270.8L1378.7 261.4Z"/>
<path d="M1388.2 251.3L1397.6 260.7L1388.2 270.1L1378.8 260.7Z"/>
<path d="M1388.3 249.1L1397.7 258.5L1388.3 267.9L1378.9 258.5Z"/>
<path d="M1388.3 247.2L1397.7 256.6L1388.3 266.0L1378.9 256.6Z"/>
<path d="M1388.4 244.9L1397.8 254.3L1388.4 263.7L1379.0 254.3Z"/>
<path d="M1388.4 244.0L1397.8 253.4L1388.4 262.8L1379.0 253.4Z"/>
<path d="M1388.5 244.0L1397.9 253.4L1388.5 262.8L1379.1 253.4Z"/>
<path d="M1388.5 244.3L1397.9 253.7L1388.5 263.1L1379.1 253.7Z"/>
<path d="M1388.6 243.7L1398.0 253.1L1388.6 262.5L1379.2 253.1Z"/>
<path d="M1388.6 244.2L1398.0 253.6L1388.6 263.0L1379.2 253.6Z"/>
<path d="M1388.7 244.6L1398.1 254.0L1388.7 263.4L1379.3 254.0Z"/>
<path d="M1388.7 243.5L1398.1 252.9L1388.7 262.3L1379.3 252.9Z"/>
<path d="M1388.8 243.0L1398.2 252.4L1388.8 261.8L1379.4 252.4Z"/>
<path d="M1388.8 241.2L1398.2 250.6L1388.8 260.0L1379.4 250.6Z"/>
<path d="M1388.9 239.1L1398.3 248.5L1388.9 257.9L1379.5 248.5Z"/>
<path d="M1388.9 238.0L1398.3 247.4L1388.9 256.8L1379.5 247.4Z"/>
<path d="M1389.0 234.3L1398.4 243.7L1389.0 253.1L1379.6 243.7Z"/>
<path d="M1389.0 235.1L1398.4 244.5L1389.0 253.9L1379.6 244.5Z"/>
<path d="M1389.1 233.2L1398.5 242.6L1389.1 252.0L1379.7 242.6Z"/>
<path d="M1389.1 233.8L1398.5 243.2L1389.1 252.6L1379.7 243.2Z"/>
<path d="M1389.2 233.1L1398.6 242.5L1389.2 251.9L1379.8 242.5Z"/>
<path d="M1389.2 236.1L1398.6 245.5L1389.2 254.9L1379.8 245.5Z"/>
<path d="M1389.3 234.9L1398.7 244.3L1389.3 253.7L1379.9 244.3Z"/>
<path d="M1389.3 233.9L1398.7 243.3L1389.3 252.7L1379.9 243.3Z"/>
<path d="M1389.4 232.7L1398.8 242.1L1389.4 251.5L1380.0 242.1Z"/>
<path d="M1389.4 230.1L1398.8 239.5L1389.4 248.9L1380.0 239.5Z"/>
<path d="M1389.5 229.9L1398.9 239.3L1389.5 248.7L1380.1 239.3Z"/>
<path d="M1389.5 227.3L1398.9 236.7L1389.5 246.1L1380.1 236.7Z"/>
<path d="M1389.6 226.1L1399.0 235.5L1389.6 244.9L1380.2 235.5Z"/>
<path d="M1389.6 224.7L1399.0 234.1L1389.6 243.5L1380.2 234.1Z"/>
<path d="M1389.7 224.3L1399.1 233.7L1389.7 243.1L1380.3 233.7Z"/>
<path d="M1389.8 224.6L1399.2 234.0L1389.8 243.4L1380.4 234.0Z"/>
<path d="M1389.8 224.2L1399.2 233.6L1389.8 243.0L1380.4 233.6Z"/>
<path d="M1389.9 225.7L1399.3 235.1L1389.9 244.5L1380.5 235.1Z"/>
<path d="M1389.9 224.0L1399.3 233.4L1389.9 242.8L1380.5 233.4Z"/>
<path d="M1390.0 225.4L1399.4 234.8L1390.0 244.2L1380.6 234.8Z"/>
<path d="M1390.0 223.6L1399.4 233.0L1390.0 242.4L1380.6 233.0Z"/>
<path d="M1390.1 220.8L1399.5 230.2L1390.1 239.6L1380.7 230.2Z"/>
<path d="M1390.1 220.9L1399.5 230.3L1390.1 239.7L1380.7 230.3Z"/>
<path d="M1390.2 218.8L1399.6 228.2L1390.2 237.6L1380.8 228.2Z"/>
<path d="M1390.2 216.3L1399.6 225.7L1390.2 235.1L1380.8 225.7Z"/>
<path d="M1390.3 215.9L1399.7 225.3L1390.3 234.7L1380.9 225.3Z"/>
<path d="M1390.3 215.8L1399.7 225.2L1390.3 234.6L1380.9 225.2Z"/>
<path d="M1390.4 214.7L1399.8 224.1L1390.4 233.5L1381.0 224.1Z"/>
<path d="M1390.4 214.6L1399.8 224.0L1390.4 233.4L1381.0 224.0Z"/>
<path d="M1390.5 214.8L1399.9 224.2L1390.5 233.6L1381.1 224.2Z"/>
<path d="M1390.5 216.0L1399.9 225.4L1390.5 234.8L1381.1 225.4Z"/>
<path d="M1390.6 213.7L1400.0 223.1L1390.6 232.5L1381.2 223.1Z"/>
<path d="M1390.6 212.9L1400.0 222.3L1390.6 231.7L1381.2 222.3Z"/>
<path d="M1390.7 212.8L1400.1 222.2L1390.7 231.6L1381.3 222.2Z"/>
<path d="M1390.7 210.9L1400.1 220.3L1390.7 229.7L1381.3 220.3Z"/>
<path d="M1390.8 209.6L1400.2 219.0L1390.8 228.4L1381.4 219.0Z"/>
<path d="M1390.8 206.5L1400.2 215.9L1390.8 225.3L1381.4 215.9Z"/>
<path d="M1390.9 206.8L1400.3 216.2L1390.9 225.6L1381.5 216.2Z"/>
<path d="M1390.9 205.0L1400.3 214.4L1390.9 223.8L1381.5 214.4Z"/>
<path d="M1391.0 205.7L1400.4 215.1L1391.0 224.5L1381.6 215.1Z"/>
<path d="M1391.0 206.0L1400.4 215.4L1391.0 224.8L1381.6 215.4Z"/>
<path d="M1391.1 205.2L1400.5 214.6L1391.1 224.0L1381.7 214.6Z"/>
<path d="M1391.1 204.8L1400.5 214.2L1391.1 223.6L1381.7 214.2Z"/>
<path d="M1391.2 205.5L1400.6 214.9L1391.2 224.3L1381.8 214.9Z"/>
<path d="M1391.3 205.1L1400.7 214.5L1391.3 223.9L1381.9 214.5Z"/>
<path d="M1391.3 202.6L1400.7 212.0L1391.3 221.4L1381.9 212.0Z"/>
<path d="M1391.4 201.5L1400.8 210.9L1391.4 220.3L1382.0 210.9Z"/>
<path d="M1391.4 199.4L1400.8 208.8L1391.4 218.2L1382.0 208.8Z"/>
<path d="M1391.5 196.8L1400.9 206.2L1391.5 215.6L1382.1 206.2Z"/>
<path d="M1391.5 195.8L1400.9 205.2L1391.5 214.6L1382.1 205.2Z"/>
<path d="M1391.6 196.4L1401.0 205.8L1391.6 215.2L1382.2 205.8Z"/>
<path d="M1391.6 194.0L1401.0 203.4L1391.6 212.8L1382.2 203.4Z"/>
<path d="M1391.7 195.9L1401.1 205.3L1391.7 214.7L1382.3 205.3Z"/>
<path d="M1391.7 195.5L1401.1 204.9L1391.7 214.3L1382.3 204.9Z"/>
<path d="M1391.8 196.7L1401.2 206.1L1391.8 215.5L1382.4 206.1Z"/>
<path d="M1391.8 195.9L1401.2 205.3L1391.8 214.7L1382.4 205.3Z"/>
<path d="M1391.9 196.3L1401.3 205.7L1391.9 215.1L1382.5 205.7Z"/>
<path d="M1391.9 192.3L1401.3 201.7L1391.9 211.1L1382.5 201.7Z"/>
<path d="M1392.0 190.9L1401.4 200.3L1392.0 209.7L1382.6 200.3Z"/>
<path d="M1392.0 191.0L1401.4 200.4L1392.0 209.8L1382.6 200.4Z"/>
<path d="M1392.1 189.5L1401.5 198.9L1392.1 208.3L1382.7 198.9Z"/>
<path d="M1392.1 188.4L1401.5 197.8L1392.1 207.2L1382.7 197.8Z"/>
<path d="M1392.2 185.5L1401.6 194.9L1392.2 204.3L1382.8 194.9Z"/>
<path d="M1392.2 186.5L1401.6 195.9L1392.2 205.3L1382.8 195.9Z"/>
<path d="M1392.3 186.3L1401.7 195.7L1392.3 205.1L1382.9 195.7Z"/>
<path d="M1392.3 186.7L1401.7 196.1L1392.3 205.5L1382.9 196.1Z"/>
<path d="M1392.4 186.7L1401.8 196.1L1392.4 205.5L1383.0 196.1Z"/>
<path d="M1392.4 187.1L1401.8 196.5L1392.4 205.9L1383.0 196.5Z"/>
<path d="M1392.5 185.4L1401.9 194.8L1392.5 204.2L1383.1 194.8Z"/>
<path d="M1392.5 185.1L1401.9 194.5L1392.5 203.9L1383.1 194.5Z"/>
<path d="M1392.6 182.4L1402.0 191.8L1392.6 201.2L1383.2 191.8Z"/>
<path d="M1392.6 180.2L1402.0 189.6L1392.6 199.0L1383.2 189.6Z"/>
<path d="M1392.7 178.4L1402.1 187.8L1392.7 197.2L1383.3 187.8Z"/>
<path d="M1392.8 177.7L1402.2 187.1L1392.8 196.5L1383.4 187.1Z"/>
<path d="M1392.8 177.5L1402.2 186.9L1392.8 196.3L1383.4 186.9Z"/>
<path d="M1392.9 176.4L1402.3 185.8L1392.9 195.2L1383.5 185.8Z"/>
<path d="M1392.9 177.0L1402.3 186.4L1392.9 195.8L1383.5 186.4Z"/>
<path d="M1393.0 175.7L1402.4 185.1L1393.0 194.5L1383.6 185.1Z"/>
<path d="M1393.0 176.4L1402.4 185.8L1393.0 195.2L1383.6 185.8Z"/>
<path d="M1393.1 176.7L1402.5 186.1L1393.1 195.5L1383.7 186.1Z"/>
<path d="M1393.1 176.2L1402.5 185.6L1393.1 195.0L1383.7 185.6Z"/>
<path d="M1393.2 174.9L1402.6 184.3L1393.2 193.7L1383.8 184.3Z"/>
<path d="M1393.2 173.2L1402.6 182.6L1393.2 192.0L1383.8 182.6Z"/>
<path d="M1393.3 170.8L1402.7 180.2L1393.3 189.6L1383.9 180.2Z"/>
<path d="M1393.3 168.5L1402.7 177.9L1393.3 187.3L1383.9 177.9Z"/>
<path d="M1393.4 167.0L1402.8 176.4L1393.4 185.8L1384.0 176.4Z"/>
<path d="M1393.4 166.1L1402.8 175.5L1393.4 184.9L1384.0 175.5Z"/>
<path d="M1393.5 164.5L1402.9 173.9L1393.5 183.3L1384.1 173.9Z"/>
<path d="M1393.5 166.7L1402.9 176.1L1393.5 185.5L1384.1 176.1Z"/>
<path d="M1393.6 166.3L1403.0 175.7L1393.6 185.1L1384.2 175.7Z"/>
<path d="M1393.6 164.1L1403.0 173.5L1393.6 182.9L1384.2 173.5Z"/>
<path d="M1393.7 167.3L1403.1 176.7L1393.7 186.1L1384.3 176.7Z"/>
<path d="M1393.7 165.3L1403.1 174.7L1393.7 184.1L1384.3 174.7Z"/>
<path d="M1393.8 163.2L1403.2 172.6L1393.8 182.0L1384.4 172.6Z"/>
<path d="M1393.8 161.4L1403.2 170.8L1393.8 180.2L1384.4 170.8Z"/>
<path d="M1393.9 159.3L1403.3 168.7L1393.9 178.1L1384.5 168.7Z"/>
<path d="M1393.9 158.0L1403.3 167.4L1393.9 176.8L1384.5 167.4Z"/>
<path d="M1394.0 156.1L1403.4 165.5L1394.0 174.9L1384.6 165.5Z"/>
<path d="M1394.0 155.5L1403.4 164.9L1394.0 174.3L1384.6 164.9Z"/>
<path d="M1394.1 154.6L1403.5 164.0L1394.1 173.4L1384.7 164.0Z"/>
<path d="M1394.1 156.7L1403.5 166.1L1394.1 175.5L1384.7 166.1Z"/>
<path d="M1394.2 156.0L1403.6 165.4L1394.2 174.8L1384.8 165.4Z"/>
<path d="M1394.3 155.3L1403.7 164.7L1394.3 174.1L1384.9 164.7Z"/>
<path d="M1394.3 155.7L1403.7 165.1L1394.3 174.5L1384.9 165.1Z"/>
<path d="M1394.4 154.7L1403.8 164.1L1394.4 173.5L1385.0 164.1Z"/>
<path d="M1394.4 151.9L1403.8 161.3L1394.4 170.7L1385.0 161.3Z"/>
<path d="M1394.5 151.1L1403.9 160.5L1394.5 169.9L1385.1 160.5Z"/>
<path d="M1394.5 148.1L1403.9 157.5L1394.5 166.9L1385.1 157.5Z"/>
<path d="M1394.6 146.3L1404.0 155.7L1394.6 165.1L1385.2 155.7Z"/>
<path d="M1394.6 145.2L1404.0 154.6L1394.6 164.0L1385.2 154.6Z"/>
<path d="M1394.7 144.2L1404.1 153.6L1394.7 163.0L1385.3 153.6Z"/>
<path d="M1394.7 144.3L1404.1 153.7L1394.7 163.1L1385.3 153.7Z"/>
<path d="M1394.8 145.4L1404.2 154.8L1394.8 164.2L1385.4 154.8Z"/>
<path d="M1394.8 144.4L1404.2 153.8L1394.8 163.2L1385.4 153.8Z"/>
<path d="M1394.9 144.0L1404.3 153.4L1394.9 162.8L1385.5 153.4Z"/>
<path d="M1394.9 144.3L1404.3 153.7L1394.9 163.1L1385.5 153.7Z"/>
<path d="M1395.0 143.0L1404.4 152.4L1395.0 161.8L1385.6 152.4Z"/>
<path d="M1395.0 140.9L1404.4 150.3L1395.0 159.7L1385.6 150.3Z"/>
<path d="M1395.1 140.3L1404.5 149.7L1395.1 159.1L1385.7 149.7Z"/>
<path d="M1395.1 137.2L1404.5 146.6L1395.1 156.0L1385.7 146.6Z"/>
<path d="M1395.2 134.5L1404.6 143.9L1395.2 153.3L1385.8 143.9Z"/>
<path d="M1395.2 134.9L1404.6 144.3L1395.2 153.7L1385.8 144.3Z"/>
<path d="M1395.3 133.5L1404.7 142.9L1395.3 152.3L1385.9 142.9Z"/>
<path d="M1395.3 133.4L1404.7 142.8L1395.3 152.2L1385.9 142.8Z"/>
<path d="M1395.4 132.1L1404.8 141.5L1395.4 150.9L1386.0 141.5Z"/>
<path d="M1395.4 133.2L1404.8 142.6L1395.4 152.0L1386.0 142.6Z"/>
<path d="M1395.5 132.7L1404.9 142.1L1395.5 151.5L1386.1 142.1Z"/>
<path d="M1395.5 133.5L1404.9 142.9L1395.5 152.3L1386.1 142.9Z"/>
<path d="M1395.6 132.0L1405.0 141.4L1395.6 150.8L1386.2 141.4Z"/>
<path d="M1395.6 130.5L1405.0 139.9L1395.6 149.3L1386.2 139.9Z"/>
<path d="M1395.7 130.1L1405.1 139.5L1395.7 148.9L1386.3 139.5Z"/>
<path d="M1395.8 125.6L1405.2 135.0L1395.8 144.4L1386.4 135.0Z"/>
<path d="M1395.8 124.3L1405.2 133.7L1395.8 143.1L1386.4 133.7Z"/>
<path d="M1395.9 124.9L1405.3 134.3L1395.9 143.7L1386.5 134.3Z"/>
<path d="M1395.9 122.1L1405.3 131.5L1395.9 140.9L1386.5 131.5Z"/>
<path d="M1396.0 122.5L1405.4 131.9L1396.0 141.3L1386.6 131.9Z"/>
<path d="M1396.0 122.0L1405.4 131.4L1396.0 140.8L1386.6 131.4Z"/>
<path d="M1396.1 122.2L1405.5 131.6L1396.1 141.0L1386.7 131.6Z"/>
<path d="M1396.1 123.6L1405.5 133.0L1396.1 142.4L1386.7 133.0Z"/>
<path d="M1396.2 122.2L1405.6 131.6L1396.2 141.0L1386.8 131.6Z"/>
<path d="M1396.2 119.9L1405.6 129.3L1396.2 138.7L1386.8 129.3Z"/>
<path d="M1396.3 120.0L1405.7 129.4L1396.3 138.8L1386.9 129.4Z"/>
<path d="M1396.3 118.6L1405.7 128.0L1396.3 137.4L1386.9 128.0Z"/>
<path d="M1396.4 116.9L1405.8 126.3L1396.4 135.7L1387.0 126.3Z"/>
<path d="M1396.4 115.0L1405.8 124.4L1396.4 133.8L1387.0 124.4Z"/>
<path d="M1396.5 112.4L1405.9 121.8L1396.5 131.2L1387.1 121.8Z"/>
<path d="M1396.5 110.5L1405.9 119.9L1396.5 129.3L1387.1 119.9Z"/>
<path d="M1396.6 111.2L1406.0 120.6L1396.6 130.0L1387.2 120.6Z"/>
<path d="M1396.6 111.3L1406.0 120.7L1396.6 130.1L1387.2 120.7Z"/>
<path d="M1396.7 109.9L1406.1 119.3L1396.7 128.7L1387.3 119.3Z"/>
<path d="M1396.7 112.0L1406.1 121.4L1396.7 130.8L1387.3 121.4Z"/>
<path d="M1396.8 111.7L1406.2 121.1L1396.8 130.5L1387.4 121.1Z"/>
<path d="M1396.8 109.8L1406.2 119.2L1396.8 128.6L1387.4 119.2Z"/>
<path d="M1396.9 108.4L1406.3 117.8L1396.9 127.2L1387.5 117.8Z"/>
<path d="M1396.9 107.7L1406.3 117.1L1396.9 126.5L1387.5 117.1Z"/>
<path d="M1397.0 105.9L1406.4 115.3L1397.0 124.7L1387.6 115.3Z"/>
<path d="M1397.0 103.0L1406.4 112.4L1397.0 121.8L1387.6 112.4Z"/>
<path d="M1397.1 101.7L1406.5 111.1L1397.1 120.5L1387.7 111.1Z"/>
<path d="M1397.2 102.0L1406.6 111.4L1397.2 120.8L1387.8 111.4Z"/>
<path d="M1397.2 100.8L1406.6 110.2L1397.2 119.6L1387.8 110.2Z"/>
<path d="M1397.3 101.1L1406.7 110.5L1397.3 119.9L1387.9 110.5Z"/>
<path d="M1397.3 100.5L1406.7 109.9L1397.3 119.3L1387.9 109.9Z"/>
<path d="M1397.4 100.9L1406.8 110.3L1397.4 119.7L1388.0 110.3Z"/>
<path d="M1397.4 100.4L1406.8 109.8L1397.4 119.2L1388.0 109.8Z"/>
<path d="M1397.5 99.7L1406.9 109.1L1397.5 118.5L1388.1 109.1Z"/>
<path d="M1397.5 97.1L1406.9 106.5L1397.5 115.9L1388.1 106.5Z"/>
<path d="M1397.6 95.1L1407.0 104.5L1397.6 113.9L1388.2 104.5Z"/>
<path d="M1397.6 94.5L1407.0 103.9L1397.6 113.3L1388.2 103.9Z"/>
<path d="M1397.7 91.8L1407.1 101.2L1397.7 110.6L1388.3 101.2Z"/>
<path d="M1397.7 91.6L1407.1 101.0L1397.7 110.4L1388.3 101.0Z"/>
<path d="M1397.8 90.1L1407.2 99.5L1397.8 108.9L1388.4 99.5Z"/>
<path d="M1397.8 89.3L1407.2 98.7L1397.8 108.1L1388.4 98.7Z"/>
<path d="M1397.9 88.7L1407.3 98.1L1397.9 107.5L1388.5 98.1Z"/>
<path d="M1397.9 90.3L1407.3 99.7L1397.9 109.1L1388.5 99.7Z"/>
<path d="M1398.0 90.0L1407.4 99.4L1398.0 108.8L1388.6 99.4Z"/>
<path d="M1398.0 89.4L1407.4 98.8L1398.0 108.2L1388.6 98.8Z"/>
<path d="M1398.1 89.8L1407.5 99.2L1398.1 108.6L1388.7 99.2Z"/>
<path d="M1398.1 87.1L1407.5 96.5L1398.1 105.9L1388.7 96.5Z"/>
<path d="M1398.2 85.8L1407.6 95.2L1398.2 104.6L1388.8 95.2Z"/>
<path d="M1398.2 83.1L1407.6 92.5L1398.2 101.9L1388.8 92.5Z"/>
<path d="M1398.3 82.4L1407.7 91.8L1398.3 101.2L1388.9 91.8Z"/>
<path d="M1398.3 81.7L1407.7 91.1L1398.3 100.5L1388.9 91.1Z"/>
<path d="M1398.4 79.3L1407.8 88.7L1398.4 98.1L1389.0 88.7Z"/>
<path d="M1398.4 78.8L1407.8 88.2L1398.4 97.6L1389.0 88.2Z"/>
<path d="M1398.5 79.5L1407.9 88.9L1398.5 98.3L1389.1 88.9Z"/>
<path d="M1398.5 78.5L1407.9 87.9L1398.5 97.3L1389.1 87.9Z"/>
<path d="M1398.6 79.4L1408.0 88.8L1398.6 98.2L1389.2 88.8Z"/>
<path d="M1398.7 79.2L1408.1 88.6L1398.7 98.0L1389.3 88.6Z"/>
<path d="M1398.7 77.4L1408.1 86.8L1398.7 96.2L1389.3 86.8Z"/>
<path d="M1398.8 77.5L1408.2 86.9L1398.8 96.3L1389.4 86.9Z"/>
<path d="M1398.8 75.0L1408.2 84.4L1398.8 93.8L1389.4 84.4Z"/>
<path d="M1398.9 72.5L1408.3 81.9L1398.9 91.3L1389.5 81.9Z"/>
<path d="M1398.9 70.1L1408.3 79.5L1398.9 88.9L1389.5 79.5Z"/>
<path d="M1399.0 69.5L1408.4 78.9L1399.0 88.3L1389.6 78.9Z"/>
<path d="M1399.0 68.3L1408.4 77.7L1399.0 87.1L1389.6 77.7Z"/>
<path d="M1399.1 68.7L1408.5 78.1L1399.1 87.5L1389.7 78.1Z"/>
<path d="M1399.0 67.3L1408.4 76.7L1399.0 86.1L1389.6 76.7Z"/>
</g>
<g stroke="#000" fill="none" stroke-linecap="round">
<line x1="145.0" y1="838.0" x2="153.0" y2="838.0" stroke-width="3.6"/>
<line x1="1449" y1="838.0" x2="1441.0" y2="838.0" stroke-width="3.6"/>
<line x1="145.0" y1="790.0" x2="161.0" y2="790.0" stroke-width="3.6"/>
<line x1="1449" y1="790.0" x2="1433.0" y2="790.0" stroke-width="3.6"/>
<line x1="145.0" y1="742.0" x2="153.0" y2="742.0" stroke-width="3.6"/>
<line x1="1449" y1="742.0" x2="1441.0" y2="742.0" stroke-width="3.6"/>
<line x1="145.0" y1="694.0" x2="161.0" y2="694.0" stroke-width="3.6"/>
<line x1="1449" y1="694.0" x2="1433.0" y2="694.0" stroke-width="3.6"/>
<line x1="145.0" y1="646.0" x2="153.0" y2="646.0" stroke-width="3.6"/>
<line x1="1449" y1="646.0" x2="1441.0" y2="646.0" stroke-width="3.6"/>
<line x1="145.0" y1="598.0" x2="161.0" y2="598.0" stroke-width="3.6"/>
<line x1="1449" y1="598.0" x2="1433.0" y2="598.0" stroke-width="3.6"/>
<line x1="145.0" y1="550.0" x2="153.0" y2="550.0" stroke-width="3.6"/>
<line x1="1449" y1="550.0" x2="1441.0" y2="550.0" stroke-width="3.6"/>
<line x1="145.0" y1="502.0" x2="161.0" y2="502.0" stroke-width="3.6"/>
<line x1="1449" y1="502.0" x2="1433.0" y2="502.0" stroke-width="3.6"/>
<line x1="145.0" y1="454.0" x2="153.0" y2="454.0" stroke-width="3.6"/>
<line x1="1449" y1="454.0" x2="1441.0" y2="454.0" stroke-width="3.6"/>
<line x1="145.0" y1="406.0" x2="161.0" y2="406.0" stroke-width="3.6"/>
<line x1="1449" y1="406.0" x2="1433.0" y2="406.0" stroke-width="3.6"/>
<line x1="145.0" y1="358.0" x2="153.0" y2="358.0" stroke-width="3.6"/>
<line x1="1449" y1="358.0" x2="1441.0" y2="358.0" stroke-width="3.6"/>
<line x1="145.0" y1="310.0" x2="161.0" y2="310.0" stroke-width="3.6"/>
<line x1="1449" y1="310.0" x2="1433.0" y2="310.0" stroke-width="3.6"/>
<line x1="145.0" y1="262.0" x2="153.0" y2="262.0" stroke-width="3.6"/>
<line x1="1449" y1="262.0" x2="1441.0" y2="262.0" stroke-width="3.6"/>
<line x1="145.0" y1="214.0" x2="161.0" y2="214.0" stroke-width="3.6"/>
<line x1="1449" y1="214.0" x2="1433.0" y2="214.0" stroke-width="3.6"/>
<line x1="145.0" y1="166.0" x2="153.0" y2="166.0" stroke-width="3.6"/>
<line x1="1449" y1="166.0" x2="1441.0" y2="166.0" stroke-width="3.6"/>
<line x1="145.0" y1="118.0" x2="161.0" y2="118.0" stroke-width="3.6"/>
<line x1="1449" y1="118.0" x2="1433.0" y2="118.0" stroke-width="3.6"/>
<line x1="145.0" y1="70.0" x2="153.0" y2="70.0" stroke-width="3.6"/>
<line x1="1449" y1="70.0" x2="1441.0" y2="70.0" stroke-width="3.6"/>
<line x1="145.0" y1="22.0" x2="161.0" y2="22.0" stroke-width="3.6"/>
<line x1="1449" y1="22.0" x2="1433.0" y2="22.0" stroke-width="3.6"/>
<line x1="269.2" y1="22" x2="269.2" y2="38.5" stroke-width="2.9"/>
<line x1="269.2" y1="838" x2="269.2" y2="821.5" stroke-width="2.9"/>
<line x1="393.4" y1="22" x2="393.4" y2="38.5" stroke-width="2.9"/>
<line x1="393.4" y1="838" x2="393.4" y2="821.5" stroke-width="2.9"/>
<line x1="517.6" y1="22" x2="517.6" y2="38.5" stroke-width="2.9"/>
<line x1="517.6" y1="838" x2="517.6" y2="821.5" stroke-width="2.9"/>
<line x1="641.8" y1="22" x2="641.8" y2="38.5" stroke-width="2.9"/>
<line x1="641.8" y1="838" x2="641.8" y2="821.5" stroke-width="2.9"/>
<line x1="766.0" y1="22" x2="766.0" y2="38.5" stroke-width="2.9"/>
<line x1="766.0" y1="838" x2="766.0" y2="821.5" stroke-width="2.9"/>
<line x1="890.1" y1="22" x2="890.1" y2="38.5" stroke-width="2.9"/>
<line x1="890.1" y1="838" x2="890.1" y2="821.5" stroke-width="2.9"/>
<line x1="1014.3" y1="22" x2="1014.3" y2="38.5" stroke-width="2.9"/>
<line x1="1014.3" y1="838" x2="1014.3" y2="821.5" stroke-width="2.9"/>
<line x1="1138.5" y1="22" x2="1138.5" y2="38.5" stroke-width="2.9"/>
<line x1="1138.5" y1="838" x2="1138.5" y2="821.5" stroke-width="2.9"/>
<line x1="1262.7" y1="22" x2="1262.7" y2="38.5" stroke-width="2.9"/>
<line x1="1262.7" y1="838" x2="1262.7" y2="821.5" stroke-width="2.9"/>
<line x1="1386.9" y1="22" x2="1386.9" y2="38.5" stroke-width="2.9"/>
<line x1="1386.9" y1="838" x2="1386.9" y2="821.5" stroke-width="2.9"/>
<rect x="145" y="22" width="1304" height="816" stroke-width="3.7" stroke-linecap="butt" stroke-linejoin="round"/>
</g>
<g font-family='"Liberation Sans", Arial, sans-serif' fill="#000" style="will-change:transform">
<g transform="translate(130.80,803.30) scale(0.7696,1)"><text x="0" y="0" font-size="40.8" text-anchor="end">260</text></g>
<g transform="translate(130.80,707.30) scale(0.7696,1)"><text x="0" y="0" font-size="40.8" text-anchor="end">280</text></g>
<g transform="translate(130.80,611.30) scale(0.7696,1)"><text x="0" y="0" font-size="40.8" text-anchor="end">300</text></g>
<g transform="translate(130.80,515.30) scale(0.7696,1)"><text x="0" y="0" font-size="40.8" text-anchor="end">320</text></g>
<g transform="translate(130.80,419.30) scale(0.7696,1)"><text x="0" y="0" font-size="40.8" text-anchor="end">340</text></g>
<g transform="translate(130.80,323.30) scale(0.7696,1)"><text x="0" y="0" font-size="40.8" text-anchor="end">360</text></g>
<g transform="translate(130.80,227.30) scale(0.7696,1)"><text x="0" y="0" font-size="40.8" text-anchor="end">380</text></g>
<g transform="translate(130.80,131.30) scale(0.7696,1)"><text x="0" y="0" font-size="40.8" text-anchor="end">400</text></g>
<g transform="translate(130.80,35.30) scale(0.7696,1)"><text x="0" y="0" font-size="40.8" text-anchor="end">420</text></g>
<g transform="translate(144.50,886.90) scale(0.7744,1)"><text x="0" y="0" font-size="40.8" text-anchor="middle">0</text></g>
<g transform="translate(268.69,886.90) scale(0.7744,1)"><text x="0" y="0" font-size="40.8" text-anchor="middle">200</text></g>
<g transform="translate(392.88,886.90) scale(0.7744,1)"><text x="0" y="0" font-size="40.8" text-anchor="middle">400</text></g>
<g transform="translate(517.07,886.90) scale(0.7744,1)"><text x="0" y="0" font-size="40.8" text-anchor="middle">600</text></g>
<g transform="translate(641.26,886.90) scale(0.7744,1)"><text x="0" y="0" font-size="40.8" text-anchor="middle">800</text></g>
<g transform="translate(765.45,886.90) scale(0.7744,1)"><text x="0" y="0" font-size="40.8" text-anchor="middle">1000</text></g>
<g transform="translate(889.64,886.90) scale(0.7744,1)"><text x="0" y="0" font-size="40.8" text-anchor="middle">1200</text></g>
<g transform="translate(1013.83,886.90) scale(0.7744,1)"><text x="0" y="0" font-size="40.8" text-anchor="middle">1400</text></g>
<g transform="translate(1138.02,886.90) scale(0.7744,1)"><text x="0" y="0" font-size="40.8" text-anchor="middle">1600</text></g>
<g transform="translate(1262.21,886.90) scale(0.7744,1)"><text x="0" y="0" font-size="40.8" text-anchor="middle">1800</text></g>
<g transform="translate(1386.40,886.90) scale(0.7744,1)"><text x="0" y="0" font-size="40.8" text-anchor="middle">2000</text></g>
<g transform="translate(759.70,939.00) scale(0.8495,1)"><text x="0" y="0" font-size="43.26" text-anchor="start" style="">Year</text></g>
<g transform="translate(39.00,604.40) rotate(-90) scale(0.7670,1)"><text x="0" y="0" font-size="45.11" text-anchor="start" style="">CO<tspan font-size="29" dy="6">2</tspan><tspan dy="-6"> mixing ratio (ppm)</tspan></text></g>
<g transform="translate(347.00,134.10) scale(0.7961,1)"><text x="0" y="0" font-size="47.38" text-anchor="start" style="">Carbon dioxide (CO<tspan font-size="27.6" dy="5.7">2</tspan><tspan dy="-5.7">)</tspan></text></g>
<g transform="translate(340.00,191.60) scale(0.7879,1)"><text x="0" y="0" font-size="43.88" text-anchor="start" style="">Antarctic (Law Dome) ice/firn</text></g>
<g transform="translate(339.30,246.10) scale(0.7889,1)"><text x="0" y="0" font-size="43.88" text-anchor="start" style="">Cape Grim (flasks/<tspan font-style="italic">in situ</tspan>)</text></g>
<g transform="translate(1457.40,22.00) rotate(90) scale(0.7400,1)"><text x="0" y="0" font-size="17" text-anchor="start" style="font-style:italic;stroke:#fff;stroke-width:0.18px;">Updated: Oct-2019</text></g>
</g>
<path d="M298.0 166.8L308.3 177.1L298.0 187.4L287.7 177.1Z" fill="#99cccc" stroke="#336666" stroke-width="1.6"/>
<path d="M298.0 221.9L308.0 231.9L298.0 241.9L288.0 231.9Z" fill="#f2a012" stroke="#ff0000" stroke-width="1.6"/>
</svg>
</body></html>
